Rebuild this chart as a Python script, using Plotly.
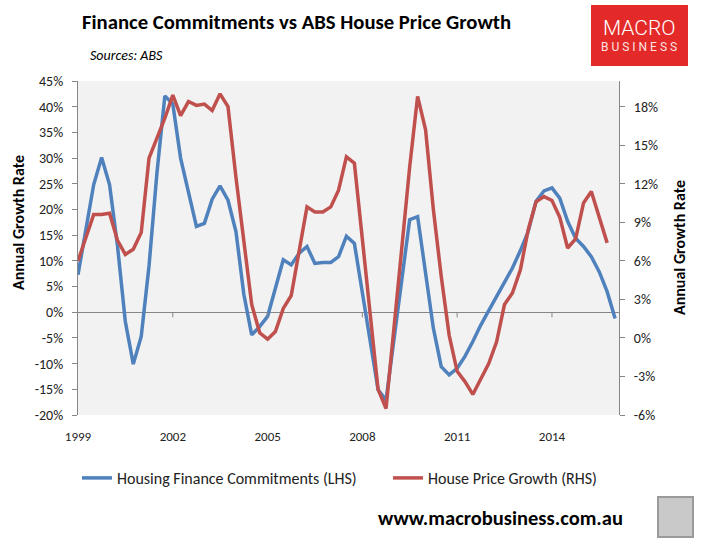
import pandas as pd
import plotly.graph_objects as go

# quarterly annual growth rates
finance = [7.3, 16, 24.8, 30.1, 24.8, 13, -1.8, -10.1, -4.7, 9, 27, 42.1,
           40.5, 30, 23, 16.7, 17.3, 22, 24.6, 21.8, 15.7, 3.5, -4.4, -2.8,
           -0.8, 4.7, 10.2, 9.2, 11.5, 12.8, 9.5, 9.7, 9.7, 10.8, 14.8, 13.4,
           3.9, -5.6, -15.1, -17.1, -5.4, 6.3, 18.0, 18.6, 7.8, -3.1, -10.6, -12.2,
           -10.9, -8.6, -5.7, -2.5, 0.3, 3.1, 5.8, 8.6, 12, 15.7, 21.6, 23.6,
           24.2, 22.2, 17.7, 14.4, 12.8, 10.8, 7.9, 4.0, -1.2]
house = [6.0, 7.8, 9.6, 9.6, 9.7, 7.6, 6.5, 6.9, 8.2, 14.0, 15.5, 17.1,
         18.9, 17.3, 18.4, 18.1, 18.2, 17.7, 19.0, 18.0, 12.5, 7.8, 2.6, 0.4,
         -0.1, 0.5, 2.3, 3.3, 6.8, 10.2, 9.8, 9.8, 10.2, 11.5, 14.1, 13.6,
         7.7, 1.8, -4.0, -5.5, 0.5, 7.0, 13.3, 18.8, 16.2, 10.0, 4.8, 0.2,
         -2.6, -3.4, -4.4, -3.2, -2.0, -0.3, 2.6, 3.5, 5.3, 8.4, 10.6, 11.0,
         10.7, 9.4, 7.0, 7.7, 10.5, 11.4, 9.4, 7.4]
dates = pd.date_range("1999-01-01", periods=len(finance), freq="QS")
year_ticks = ["1999", "2002", "2005", "2008", "2011", "2014"]
left_ticks = list(range(-20, 50, 5))
right_ticks = list(range(-6, 21, 3))

W, H = 701, 547
L, R, T, B = 78, 82, 81, 132
pw, ph = W - L - R, H - T - B


def fx(p):
    return (p - L) / pw


def fy(p):
    return (H - B - p) / ph


font = "Carlito, Lato, sans-serif"
blue = "#4F81BD"
red = "#C0504D"
axis_grey = "#868686"

fig = go.Figure()
fig.add_trace(go.Scatter(x=dates, y=finance, mode="lines",
                         name="Housing Finance Commitments (LHS)",
                         line=dict(color=blue, width=3.5), legend="legend"))
fig.add_trace(go.Scatter(x=dates[:len(house)], y=house, mode="lines",
                         name="House Price Growth (RHS)", yaxis="y2",
                         line=dict(color=red, width=3.5), legend="legend2"))

leg = dict(orientation="h", y=fy(478), xanchor="left", yanchor="middle",
           font=dict(size=16, color="#222"), itemwidth=30, bgcolor="rgba(0,0,0,0)")

fig.update_layout(
    width=W, height=H,
    margin=dict(l=L, r=R, t=T, b=B, autoexpand=False),
    paper_bgcolor="white", plot_bgcolor="#F2F2F2",
    font=dict(family=font, size=13, color="#222"),
    showlegend=True,
    legend=dict(leg, x=fx(77)),
    legend2=dict(leg, x=fx(388)),
    xaxis=dict(range=[pd.Timestamp("1999-01-01"), pd.Timestamp("2016-02-15")],
               tickvals=[pd.Timestamp(y + "-01-01") for y in year_ticks], ticktext=year_ticks,
               showline=False, ticks="", showgrid=False, zeroline=False,
               tickfont=dict(size=13), ticklabelstandoff=12),
    yaxis=dict(range=[-20, 45], tickvals=left_ticks,
               ticktext=[f"{v}%" for v in left_ticks],
               showline=True, linecolor=axis_grey, linewidth=1,
               ticks="outside", ticklen=5, tickcolor=axis_grey,
               showgrid=False, zeroline=True, zerolinecolor=axis_grey, zerolinewidth=1,
               tickfont=dict(size=14), ticklabelstandoff=6),
    yaxis2=dict(range=[-6, 20], tickvals=right_ticks,
                ticktext=[f"{v}%" for v in right_ticks],
                overlaying="y", side="right",
                showline=True, linecolor=axis_grey, linewidth=1,
                ticks="outside", ticklen=5, tickcolor=axis_grey,
                showgrid=False, zeroline=False,
                tickfont=dict(size=14), ticklabelstandoff=6),
)

# small tick marks on the zero line
for y in year_ticks[1:]:
    fig.add_shape(type="line", xref="x", yref="y",
                  x0=pd.Timestamp(y + "-01-01"), x1=pd.Timestamp(y + "-01-01"),
                  y0=0, y1=-1, line=dict(color=axis_grey, width=1))

fig.add_annotation(text="<b>Finance Commitments vs ABS House Price Growth</b>",
                   xref="paper", yref="paper", x=fx(80), y=fy(22),
                   xanchor="left", yanchor="middle", showarrow=False,
                   font=dict(size=20.7, color="#000"))
fig.add_annotation(text="<i>Sources: ABS</i>",
                   xref="paper", yref="paper", x=fx(88), y=fy(56),
                   xanchor="left", yanchor="middle", showarrow=False,
                   font=dict(size=14, color="#000"))
fig.add_annotation(text="<b>Annual Growth Rate</b>", textangle=-90,
                   xref="paper", yref="paper", x=fx(18), y=fy(223),
                   xanchor="center", yanchor="middle", showarrow=False,
                   font=dict(size=16, color="#000"))
fig.add_annotation(text="<b>Annual Growth Rate</b>", textangle=-90,
                   xref="paper", yref="paper", x=fx(679), y=fy(248),
                   xanchor="center", yanchor="middle", showarrow=False,
                   font=dict(size=16, color="#000"))
fig.add_annotation(text="<b>www.macrobusiness.com.au</b>",
                   xref="paper", yref="paper", x=fx(500), y=fy(518),
                   xanchor="center", yanchor="middle", showarrow=False,
                   font=dict(size=20.5, color="#000"))

# logo box
fig.add_shape(type="rect", xref="paper", yref="paper",
              x0=fx(591), x1=fx(688), y0=fy(66), y1=fy(5),
              fillcolor="#E32A28", line=dict(width=0))
fig.add_annotation(text="MACRO", xref="paper", yref="paper", x=fx(639), y=fy(28),
                   showarrow=False, xanchor="center", yanchor="middle",
                   font=dict(family="Roboto", size=21, color="white", weight=300))
fig.add_annotation(text="B U S I N E S S", xref="paper", yref="paper", x=fx(639), y=fy(47),
                   showarrow=False, xanchor="center", yanchor="middle",
                   font=dict(family="Roboto", size=12, color="#FBE3E3"))
# wolf picture placeholder
fig.add_shape(type="rect", xref="paper", yref="paper",
              x0=fx(658), x1=fx(693), y0=fy(537), y1=fy(497),
              fillcolor="#C9C9C9", line=dict(color="#9A9A9A", width=2))

fig.write_html("out.html", config={"displayModeBar": False},
               post_script="document.body.style.margin='0';")
